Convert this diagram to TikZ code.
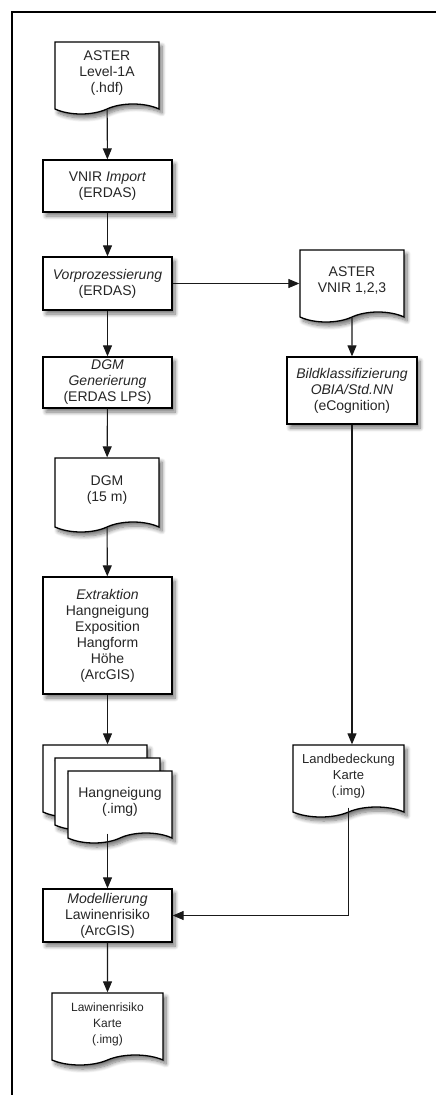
\documentclass[tikz,border=0pt]{standalone}
\usepackage{fontspec}
\setmainfont{Liberation Sans}
\usetikzlibrary{positioning,arrows.meta,shapes.symbols,shadows.blur,calc}

\begin{document}
\begin{tikzpicture}[
  x=1pt, y=-1pt, >={Triangle[length=11pt,width=9pt]},
  every node/.style={text=black!85},
  shade/.style={blur shadow={shadow xshift=3pt, shadow yshift=-4pt, shadow blur radius=4pt, shadow blur steps=8, shadow opacity=55}},
  proc/.style={draw, line width=1.3pt, fill=white, shade, align=center, inner sep=2pt,
    minimum width=129pt, font=\fontsize{14}{16}\selectfont},
  doc/.style={tape, tape bend top=none, tape bend bottom=in and out, tape bend height=10pt,
    draw, line width=1.3pt, fill=white, shade, align=center, inner sep=2pt,
    minimum width=104pt, minimum height=72pt, font=\fontsize{14}{16}\selectfont},
  arr/.style={->, line width=1.1pt, color=black!90},
]
\useasboundingbox (0,0) rectangle (436,1095);
\draw[line width=1.6pt] (12,1095) -- (12,12) -- (436,12);

\node[doc] (aster) at (107,73) {ASTER\\Level-1A\\(.hdf)};
\node[proc, minimum height=52pt] (imp) at (107.5,186) {VNIR \textit{Import}\\(ERDAS)};
\node[proc, minimum height=53pt] (vorpro) at (107.5,283.5) {\textit{Vorprozessierung}\\(ERDAS)};
\node[proc, minimum height=51pt] (dgmgen) at (107.5,382.5) {\textit{DGM}\\\textit{Generierung}\\(ERDAS LPS)};
\node[doc, minimum height=74pt] (dgm) at (107,490) {DGM\\(15 m)};
\node[proc, minimum height=117pt] (extr) at (107.5,635.5)
  {\textit{Extraktion}\\Hangneigung\\Exposition\\Hangform\\Höhe\\(ArcGIS)};

% stacked sheets
\node[doc] (hang3) at (95,776) {};
\node[doc, minimum width=105pt] (hang2) at (107.5,789) {};
\node[doc] (hang) at (120,802) {Hangneigung\\(.img)};

\node[proc, minimum height=53pt] (model) at (107.5,915.5) {\textit{Modellierung}\\Lawinenrisiko\\(ArcGIS)};
\node[doc, minimum width=111pt, font=\fontsize{12}{16}\selectfont] (risk) at (107.5,1024) {Lawinenrisiko\\Karte\\(.img)};

\node[doc] (vnir) at (352,281) {ASTER\\VNIR 1,2,3};
\node[proc, minimum width=130pt, minimum height=67pt] (bild) at (352,390.5)
  {\textit{Bildklassifizierung}\\\textit{OBIA/Std.NN}\\(eCognition)};
\node[doc, minimum width=111pt, font=\fontsize{13}{16}\selectfont] (land) at (348.5,776) {Landbedeckung\\Karte\\(.img)};

\draw[arr] (aster) -- (imp);
\draw[arr] (imp) -- (vorpro);
\draw[arr] (vorpro.east) -- (vorpro.east -| vnir.west);
\draw[arr] (vorpro) -- (dgmgen);
\draw[arr] (dgmgen) -- (dgm);
\draw[arr] (dgm) -- (extr);
\draw[arr] (extr.south) -- (extr.south |- hang3.north);
\draw[arr] (model.north |- hang.south) -- (model.north);
\draw[arr] (model) -- (risk);

\draw[arr] (vnir) -- (bild);
\draw[arr] (bild.south) -- (bild.south |- land.north);
\draw[arr] (land.south) |- (model.east);
\end{tikzpicture}
\end{document}
